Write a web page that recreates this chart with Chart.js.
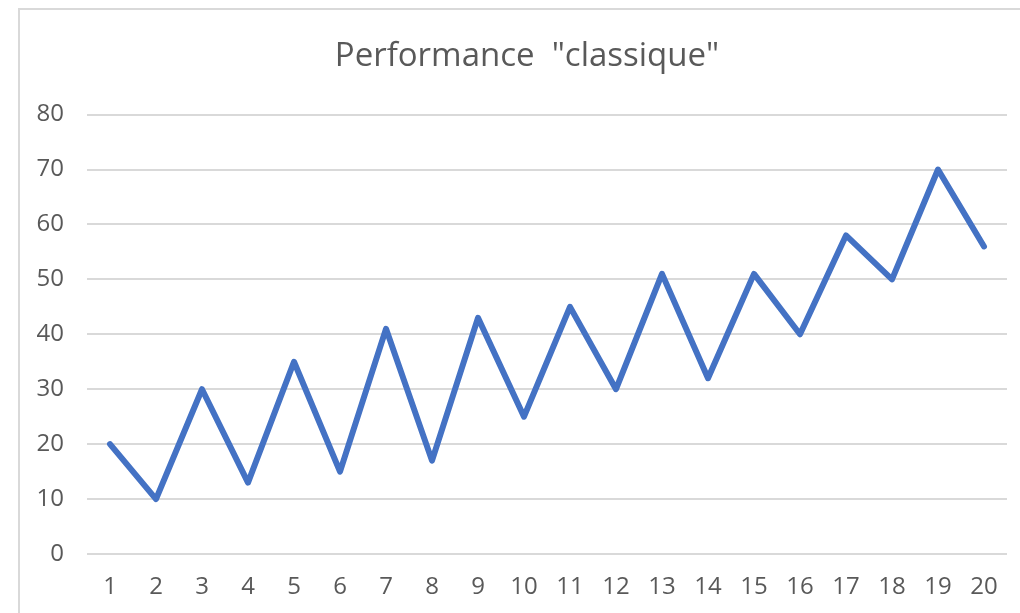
<!DOCTYPE html>
<html>
<head>
<meta charset="utf-8">
<script src="https://cdn.jsdelivr.net/npm/chart.js@4"></script>
<style>
  html, body { margin: 0; padding: 0; background: #fff; overflow: hidden; }
  #frame { position: absolute; left: 18px; top: 8px; width: 1100px; height: 700px; border: 2px solid #d9d9d9; box-sizing: border-box; }
  #wrap { position: absolute; left: 19px; top: 9px; width: 1016px; height: 604px; }
</style>
</head>
<body>
<div id="frame"></div>
<div id="wrap"><canvas id="chart"></canvas></div>
<script>
// données du graphique
const labels = ["1", "2", "3", "4", "5", "6", "7", "8", "9", "10", "11", "12", "13", "14", "15", "16", "17", "18", "19", "20"];
const performance = [20, 10, 30, 13, 35, 15, 41, 17, 43, 25, 45, 30, 51, 32, 51, 40, 58, 50, 70, 56];
const titre = 'Performance  "classique"';

const gris = "#595959";

// centre le titre sur toute la largeur du cadre
const centrerTitre = {
    id: "centrerTitre",
    afterLayout(chart) {
        const t = chart.titleBlock;
        if (t) { t.left += 14; t.right += 14; }
    }
};

new Chart(document.getElementById("chart"), {
    type: "line",
    data: {
        labels: labels,
        datasets: [{
            data: performance,
            borderColor: "#4472c4",
            borderWidth: 6,
            borderCapStyle: "round",
            borderJoinStyle: "round",
            pointRadius: 0,
            tension: 0,
            fill: false
        }]
    },
    options: {
        responsive: true,
        maintainAspectRatio: false,
        animation: false,
        layout: { padding: { left: 0, right: 28, top: 0, bottom: 0 } },
        plugins: {
            legend: { display: false },
            tooltip: { enabled: false },
            title: {
                display: true,
                text: titre,
                color: gris,
                font: { family: "'Open Sans'", size: 33, weight: "normal" },
                padding: { top: 28, bottom: 38 }
            }
        },
        scales: {
            x: {
                offset: true,
                grid: { display: false, drawTicks: false },
                border: { display: false },
                ticks: {
                    color: gris,
                    font: { family: "'Open Sans'", size: 24 },
                    padding: 19,
                    maxRotation: 0,
                    autoSkip: false
                },
                afterFit: (scale) => { scale.height = 59; }
            },
            y: {
                min: 0,
                max: 80,
                ticks: {
                    stepSize: 10,
                    color: gris,
                    font: { family: "'Open Sans'", size: 24 },
                    padding: 23
                },
                grid: { color: "#d9d9d9", lineWidth: 2, drawTicks: false },
                border: { display: false },
                afterFit: (scale) => { scale.width = 68; }
            }
        }
    },
    plugins: [centrerTitre]
});
</script>
</body>
</html>
